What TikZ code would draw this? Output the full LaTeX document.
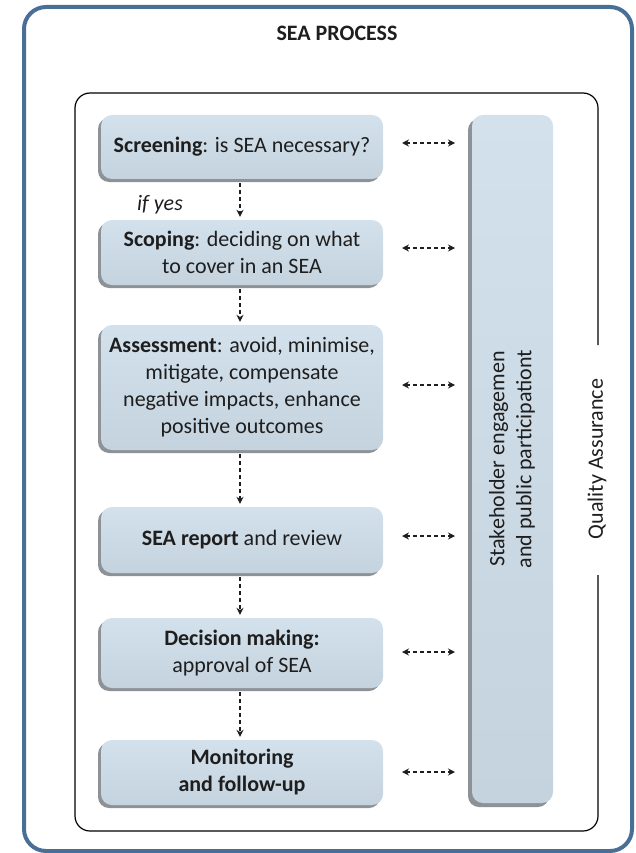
\documentclass[tikz,border=0pt]{standalone}
\usepackage{fontspec}
\usepackage{graphicx}
\setmainfont{Carlito}
\usetikzlibrary{arrows.meta,shadows}
\definecolor{frameblue}{HTML}{4A6F97}
\definecolor{boxface}{HTML}{C5D3DE}
\definecolor{boxtop}{HTML}{D3E1EC}
\definecolor{boxshadow}{HTML}{8D9297}
\definecolor{ink}{HTML}{1E1E1E}
\tikzset{
  txt/.style={font=\fontsize{22}{27}\selectfont, text=ink},
  stepbox/.style={txt, rectangle, rounded corners=11pt, minimum width=282pt,
    inner sep=0pt, align=center, top color=boxtop, bottom color=boxface,
    drop shadow={shadow xshift=-3pt, shadow yshift=-3pt, fill=boxshadow, opacity=1}},
  barbox/.style={txt, rectangle, rounded corners=11pt, minimum width=81pt,
    minimum height=688pt, inner sep=0pt, top color=boxtop, bottom color=boxface,
    drop shadow={shadow xshift=-4pt, shadow yshift=-4pt, fill=boxshadow, opacity=1}},
  flow/.style={draw=ink, line width=1.2pt, dash pattern=on 4pt off 3pt,
    -{Stealth[length=7pt,width=7pt]}, shorten <=4pt, shorten >=3pt},
  both/.style={draw=ink, line width=1.2pt, dash pattern=on 4pt off 3pt,
    {Stealth[length=7pt,width=7pt]}-{Stealth[length=7pt,width=7pt]}},
}
\begin{document}
\begin{tikzpicture}[x=1pt,y=1pt]
\useasboundingbox (0,0) rectangle (635,-853);
% outer blue frame
\draw[frameblue, line width=4pt, rounded corners=22pt] (24,-7) rectangle (632,-851);
% title
\node[txt, font=\fontsize{22}{26}\selectfont\bfseries] (title) at (337,-33.5) {SEA PROCESS};
% inner frame with gap for the Quality Assurance label
\draw[black, line width=1.2pt, rounded corners=15pt]
  (598,-575) -- (598,-831) -- (75,-831) -- (75,-93) -- (598,-93) -- (598,-345);
\node[txt, rotate=90] (qa) at (597,-459) {Quality Assurance};
% process steps
\node[stepbox, minimum height=64pt] (screen) at (242,-147) {\textbf{Screening}: is SEA necessary?};
\node[stepbox, minimum height=65pt] (scope) at (242,-252.5) {\textbf{Scoping}: deciding on what\\to cover in an SEA};
\node[stepbox, minimum height=125pt] (assess) at (242,-387.5) {\textbf{Assessment}: avoid, minimise,\\mitigate, compensate\\negative impacts, enhance\\positive outcomes};
\node[stepbox, minimum height=66pt] (report) at (242,-540) {\textbf{SEA report} and review};
\node[stepbox, minimum height=70pt] (decide) at (242,-653) {\textbf{Decision making:}\\approval of SEA};
\node[stepbox, minimum height=65pt] (monitor) at (242,-772.5) {\textbf{Monitoring}\\\textbf{and follow-up}};
% stakeholder bar
\node[barbox] (bar) at (512.5,-459) {\rotatebox{90}{\begin{tabular}{@{}c@{}}Stakeholder engagemen\\and public participationt\end{tabular}}};
% if yes
\node[txt, font=\fontsize{22}{26}\selectfont\itshape] (ifyes) at (160,-205) {if yes};
% vertical flow arrows
\draw[flow] ([xshift=-2pt]screen.south) -- ([xshift=-2pt]scope.north);
\draw[flow] ([xshift=-2pt]scope.south) -- ([xshift=-2pt]assess.north);
\draw[flow] ([xshift=-2pt]assess.south) -- ([xshift=-2pt]report.north);
\draw[flow] ([xshift=-2pt]report.south) -- ([xshift=-2pt]decide.north);
\draw[flow] ([xshift=-2pt]decide.south) -- ([xshift=-2pt]monitor.north);
% two-way arrows
\foreach \n/\y in {1/143,2/248,3/385,4/536,5/652,6/772}{
  \coordinate (l\n) at (402,-\y);
  \coordinate (r\n) at (455,-\y);
  \draw[both] (l\n) -- (r\n);
}
\end{tikzpicture}
\end{document}
